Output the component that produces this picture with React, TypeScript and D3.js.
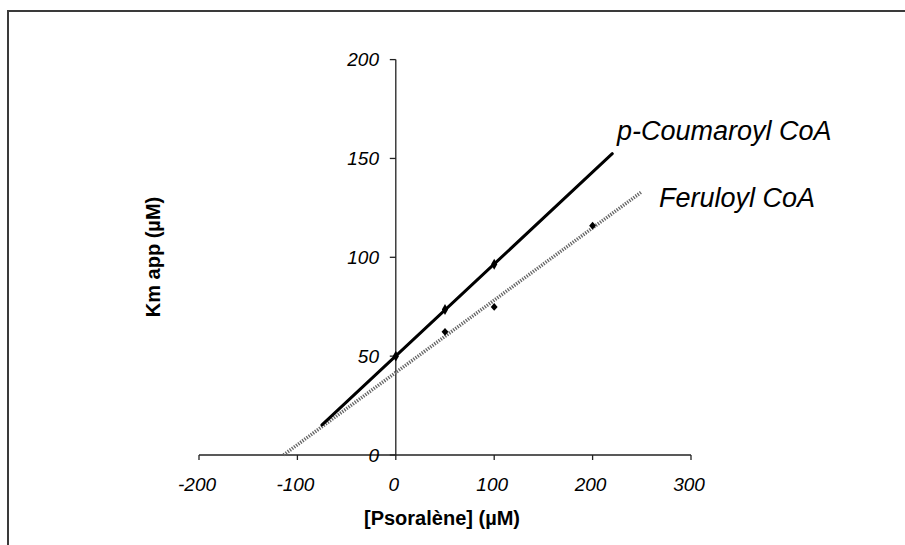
import React from "react";
import * as d3 from "d3";

// ---- data ----
const coumX = [0, 50, 100];
const coumY = [50, 73.6, 96.5];
const coumRange = [-75, 220];

const ferX = [50, 100, 200];
const ferY = [62.3, 74.9, 116];
const ferRange = [-114, 250];

const xTicks = [-200, -100, 0, 100, 200, 300];
const yTicks = [0, 50, 100, 150, 200];

const seriesNames = ["p-Coumaroyl CoA", "Feruloyl CoA"];
const xTitle = "[Psoralène] (µM)";
const yTitle = "Km app (µM)";

function fit(xs: number[], ys: number[]) {
  const mx = d3.mean(xs)!;
  const my = d3.mean(ys)!;
  let sxy = 0, sxx = 0;
  xs.forEach((x, i) => { sxy += (x - mx) * (ys[i] - my); sxx += (x - mx) * (x - mx); });
  const slope = sxy / sxx;
  return { slope, intercept: my - slope * mx };
}

export default function App() {
  const W = 905, H = 545;
  const x = d3.scaleLinear().domain([-200, 300]).range([199, 691]);
  const y = d3.scaleLinear().domain([0, 200]).range([455, 59.6]);
  const line = d3.line<[number, number]>().x(d => x(d[0])).y(d => y(d[1]));

  const fc = fit(coumX, coumY);
  const ff = fit(ferX, ferY);
  const coumLine: [number, number][] = coumRange.map(v => [v, fc.intercept + fc.slope * v]);
  const ferLine: [number, number][] = ferRange.map(v => [v, Math.max(0, ff.intercept + ff.slope * v)]);

  const font = "'Liberation Sans', Arial, sans-serif";
  const diamond = d3.symbol().type(d3.symbolDiamond).size(34)()!;

  return (
    <svg width={W} height={H} style={{ position: "absolute", left: 0, top: 0, background: "#fff" }}>
      {/* frame */}
      <path d={`M8,${H} L8,11 L${W},11`} fill="none" stroke="#3a3a3a" strokeWidth={2} />

      {/* axes */}
      <line x1={x(-200)} x2={x(300)} y1={y(0)} y2={y(0)} stroke="#222" strokeWidth={1.3} />
      {xTicks.map(t => (
        <line key={"xt" + t} x1={x(t)} x2={x(t)} y1={y(0)} y2={y(0) + 5} stroke="#222" strokeWidth={1.3} />
      ))}
      <line x1={x(0)} x2={x(0)} y1={y(0)} y2={y(200)} stroke="#222" strokeWidth={1.3} />
      {yTicks.map(t => (
        <line key={"yt" + t} x1={x(0) - 6} x2={x(0)} y1={y(t)} y2={y(t)} stroke="#222" strokeWidth={1.3} />
      ))}

      {/* tick labels */}
      {xTicks.map(t => (
        <text key={"xl" + t} x={x(t) - 2} y={491} textAnchor="middle" fontFamily={font} fontStyle="italic" fontSize={19} fill="#000">{t}</text>
      ))}
      {yTicks.map(t => (
        <text key={"yl" + t} x={379} y={y(t)} dy="0.35em" textAnchor="end" fontFamily={font} fontStyle="italic" fontSize={19} fill="#000">{t}</text>
      ))}

      {/* axis titles */}
      <text x={442} y={525} textAnchor="middle" fontFamily={font} fontWeight="bold" fontSize={20} fill="#000">{xTitle}</text>
      <text transform="translate(160,257) rotate(-90)" textAnchor="middle" fontFamily={font} fontWeight="bold" fontSize={20} fill="#000">{yTitle}</text>

      {/* Feruloyl line (dotted gray) */}
      <path d={line(ferLine)!} fill="none" stroke="#666" strokeWidth={3.5} strokeDasharray="1.3 1.3" />
      {ferX.map((v, i) => (
        <path key={"fm" + i} d={diamond} transform={`translate(${x(v)},${y(ferY[i])}) scale(1.1,0.7)`} fill="#000" />
      ))}

      {/* p-Coumaroyl line (solid black) */}
      <path d={line(coumLine)!} fill="none" stroke="#000" strokeWidth={3} strokeLinecap="round" />
      {coumX.map((v, i) => (
        <path key={"cm" + i} d={diamond} transform={`translate(${x(v)},${y(coumY[i])})`} fill="#000" />
      ))}

      {/* series labels */}
      <text x={617} y={140} fontFamily={font} fontStyle="italic" fontSize={27} fill="#000">{seriesNames[0]}</text>
      <text x={659} y={207} fontFamily={font} fontStyle="italic" fontSize={27} fill="#000">{seriesNames[1]}</text>
    </svg>
  );
}
